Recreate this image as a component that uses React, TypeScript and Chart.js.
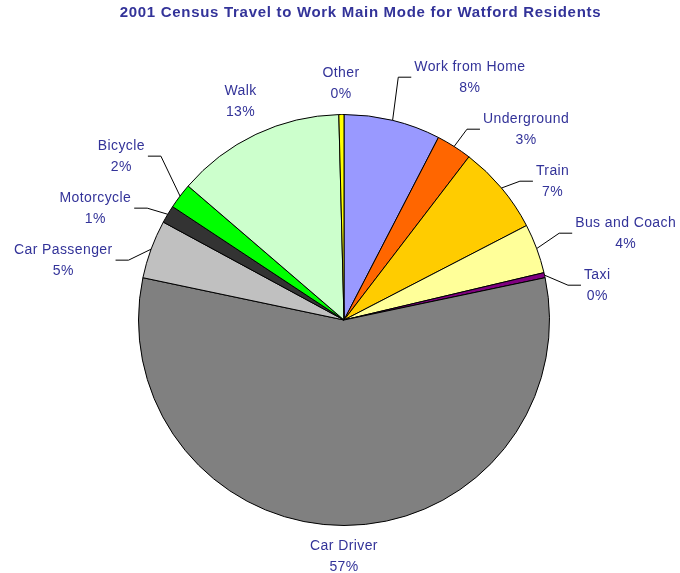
import { useEffect, useRef } from "react";
import { Chart, registerables } from "chart.js";

Chart.register(...registerables);

const TITLE = "2001 Census Travel to Work Main Mode for Watford Residents";

const categories = [
  "Work from Home",
  "Underground",
  "Train",
  "Bus and Coach",
  "Taxi",
  "Car Driver",
  "Car Passenger",
  "Motorcycle",
  "Bicycle",
  "Walk",
  "Other",
];

// share of residents (%)
const shares = [7.6, 2.8, 7.0, 3.9, 0.4, 56.6, 4.6, 1.4, 2.0, 13.3, 0.4];

const sliceColors = [
  "#9999FF",
  "#FF6600",
  "#FFCC00",
  "#FFFF99",
  "#800080",
  "#808080",
  "#C0C0C0",
  "#333333",
  "#00FF00",
  "#CCFFCC",
  "#FFFF00",
];

// which labels are pulled out with a leader line
const withLeader = [true, true, true, true, true, false, true, true, true, false, false];

const TEXT_COLOR = "#333399";
const FONT_FAMILY = '"Liberation Sans", Arial, Helvetica, sans-serif';
const LABEL_SIZE = 14;
const LINE_H = 21;
const LEAD = 24;
const MIN_GAP = 52;

type Item = { i: number; ex: number; ey: number; bx: number; ny: number; y: number; dir: number; w: number };

function relax(items: Item[]) {
  // items sorted by natural y; cluster-merge so that neighbours are MIN_GAP apart
  items.sort((a, b) => a.ny - b.ny);
  let groups: Item[][] = items.map((it) => [it]);
  const place = (g: Item[]) => {
    const n = g.length;
    let sum = 0;
    g.forEach((it, k) => (sum += it.ny - (k - (n - 1) / 2) * MIN_GAP));
    const c = sum / n;
    g.forEach((it, k) => (it.y = c + (k - (n - 1) / 2) * MIN_GAP));
  };
  groups.forEach(place);
  let changed = true;
  while (changed) {
    changed = false;
    for (let k = 0; k < groups.length - 1; k++) {
      const a = groups[k];
      const b = groups[k + 1];
      if (b[0].y - a[a.length - 1].y < MIN_GAP) {
        const merged = a.concat(b);
        place(merged);
        groups.splice(k, 2, merged);
        changed = true;
        break;
      }
    }
  }
}

const labelPlugin = {
  id: "sliceLabels",
  beforeDraw(chart: any) {
    const ctx = chart.ctx as CanvasRenderingContext2D;
    ctx.save();
    ctx.font = `bold 15px ${FONT_FAMILY}`;
    ctx.fillStyle = TEXT_COLOR;
    ctx.textAlign = "center";
    ctx.textBaseline = "middle";
    (ctx as any).letterSpacing = "0.7px";
    ctx.fillText(TITLE, chart.width / 2 + 20.5, 13);
    ctx.restore();
  },
  afterDatasetsDraw(chart: any) {
    const ctx = chart.ctx as CanvasRenderingContext2D;
    const meta = chart.getDatasetMeta(0);
    const data = chart.data.datasets[0].data as number[];
    const total = data.reduce((a, b) => a + b, 0);
    ctx.save();
    ctx.font = `${LABEL_SIZE}px ${FONT_FAMILY}`;
    (ctx as any).letterSpacing = "0.4px";
    ctx.textAlign = "center";
    ctx.textBaseline = "middle";

    const texts: string[][] = [];
    const left: Item[] = [];
    const right: Item[] = [];
    const free: { i: number; cx: number; cy: number }[] = [];

    meta.data.forEach((arc: any, i: number) => {
      const { x, y, startAngle, endAngle, outerRadius } = arc.getProps(
        ["x", "y", "startAngle", "endAngle", "outerRadius"],
        true
      );
      const mid = (startAngle + endAngle) / 2;
      const cos = Math.cos(mid);
      const sin = Math.sin(mid);
      const lines = [
        String(chart.data.labels[i]),
        Math.round((data[i] / total) * 100) + "%",
      ];
      texts[i] = lines;
      const w = Math.max(...lines.map((l) => ctx.measureText(l).width));
      const h = LINE_H * 2;
      if (withLeader[i]) {
        const it: Item = {
          i,
          ex: x + cos * outerRadius,
          ey: y + sin * outerRadius,
          bx: x + cos * (outerRadius + LEAD),
          ny: y + sin * (outerRadius + LEAD),
          y: 0,
          dir: cos >= 0 ? 1 : -1,
          w,
        };
        (it.dir > 0 ? right : left).push(it);
      } else {
        const d = outerRadius + 10 + (Math.abs(cos) * w) / 2 + (Math.abs(sin) * h) / 2;
        free.push({ i, cx: x + cos * d, cy: y + sin * d });
      }
    });

    relax(right);
    relax(left);

    ctx.strokeStyle = "#000000";
    ctx.lineWidth = 1;
    ctx.fillStyle = TEXT_COLOR;
    [...right, ...left].forEach((it) => {
      const hx = it.bx + it.dir * 13;
      ctx.beginPath();
      ctx.moveTo(it.ex, it.ey);
      ctx.lineTo(it.bx, it.y);
      ctx.lineTo(hx, it.y);
      ctx.stroke();
      const cx = hx + it.dir * (3 + it.w / 2);
      ctx.fillText(texts[it.i][0], cx, it.y - LINE_H / 2);
      ctx.fillText(texts[it.i][1], cx, it.y + LINE_H / 2);
    });
    free.forEach((f) => {
      ctx.fillText(texts[f.i][0], f.cx, f.cy - LINE_H / 2);
      ctx.fillText(texts[f.i][1], f.cx, f.cy + LINE_H / 2);
    });
    ctx.restore();
  },
};

export default function App() {
  const canvasRef = useRef<HTMLCanvasElement | null>(null);

  useEffect(() => {
    document.body.style.margin = "0";
    if (!canvasRef.current) return;
    const chart = new Chart(canvasRef.current, {
      type: "pie",
      data: {
        labels: categories,
        datasets: [
          {
            data: shares,
            backgroundColor: sliceColors,
            borderColor: "#000000",
            borderWidth: 1,
          },
        ],
      },
      options: {
        responsive: false,
        animation: false,
        devicePixelRatio: 1,
        layout: {
          padding: { top: 114, bottom: 47, left: 138, right: 130 },
        },
        plugins: {
          legend: { display: false },
          title: { display: false },
          tooltip: { enabled: false },
        },
      },
      plugins: [labelPlugin],
    });
    return () => chart.destroy();
  }, []);

  return (
    <div style={{ width: 680, height: 573 }}>
      <canvas
        ref={canvasRef}
        width={680}
        height={573}
        style={{ width: 680, height: 573, display: "block" }}
      />
    </div>
  );
}
